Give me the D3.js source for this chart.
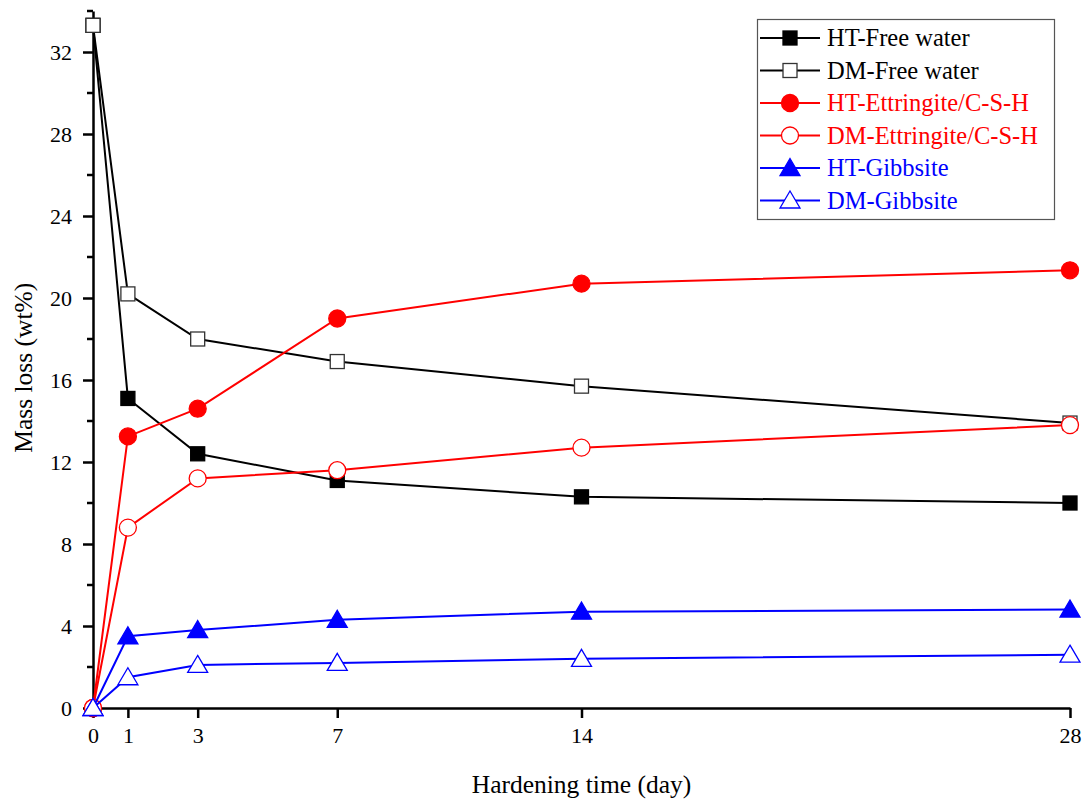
<!DOCTYPE html>
<html>
<head>
<meta charset="utf-8">
<script src="https://cdn.jsdelivr.net/npm/d3@7"></script>
<style>
body { margin: 0; background: #fff; }
text { font-family: "Liberation Serif", "Times New Roman", serif; }
</style>
</head>
<body>
<script>
// hardening time (day)
var days = [0, 1, 3, 7, 14, 28];
var xTicks = [0, 1, 3, 7, 14, 28];
var yTicks = [0, 4, 8, 12, 16, 20, 24, 28, 32];

var htFree = [33.3, 15.1, 12.4, 11.1, 10.3, 10.0];
var dmFree = [33.3, 20.2, 18.0, 16.9, 15.7, 13.9];
var htEtt = [0, 13.25, 14.6, 19.0, 20.7, 21.35];
var dmEtt = [0, 8.8, 11.2, 11.6, 12.7, 13.8];
var htGib = [0, 3.5, 3.8, 4.3, 4.7, 4.8];
var dmGib = [0, 1.5, 2.1, 2.2, 2.4, 2.6];

var names = ["HT-Free water", "DM-Free water", "HT-Ettringite/C-S-H", "DM-Ettringite/C-S-H", "HT-Gibbsite", "DM-Gibbsite"];
var allValues = [htFree, dmFree, htEtt, dmEtt, htGib, dmGib];
var colors = ["#000", "#000", "#ff0000", "#ff0000", "#0000ff", "#0000ff"];
var shapes = ["square", "square", "circle", "circle", "triangle", "triangle"];
var filled = [true, false, true, false, true, false];

var width = 1088, height = 805;
var margin = {left: 93, right: 18, top: 11, bottom: 97};

var svg = d3.select("body").append("svg").attr("width", width).attr("height", height);

var x = d3.scaleLinear().domain([0, 28]).range([margin.left, width - margin.right]);
var y = d3.scaleLinear().domain([0, 34]).range([height - margin.bottom, margin.top]);

// axes
var xAxis = svg.append("g")
  .attr("transform", "translate(0," + y(0) + ")")
  .call(d3.axisBottom(x).tickValues(xTicks).tickSize(10).tickPadding(9).tickSizeOuter(0));
var yAxis = svg.append("g")
  .attr("transform", "translate(" + x(0) + ",0)")
  .call(d3.axisLeft(y).tickValues(yTicks).tickSize(10).tickPadding(11).tickSizeOuter(0));

// minor y ticks
yAxis.selectAll("line.minor")
  .data(d3.range(2, 35, 4))
  .enter().append("line")
  .attr("class", "minor")
  .attr("x1", 0).attr("x2", -6)
  .attr("y1", function(d){ return y(d); })
  .attr("y2", function(d){ return y(d); })
  .attr("stroke", "#000").attr("stroke-width", 2.5);

[xAxis, yAxis].forEach(function(a){
  a.select(".domain").attr("stroke-width", 2.5).attr("stroke", "#000");
  a.selectAll(".tick line").attr("stroke-width", 2.5);
  a.selectAll(".tick text").attr("font-size", 22).attr("fill", "#000")
    .attr("font-family", "Liberation Serif, serif");
});

svg.append("text")
  .text("Hardening time (day)")
  .attr("x", (x(0) + x(28)) / 2)
  .attr("y", 793)
  .attr("text-anchor", "middle")
  .attr("font-size", 25.5);

svg.append("text")
  .text("Mass loss (wt%)")
  .attr("transform", "translate(32," + y(16.6) + ") rotate(-90)")
  .attr("text-anchor", "middle")
  .attr("font-size", 25.5);

var line = d3.line()
  .x(function(d, i){ return x(days[i]); })
  .y(function(d){ return y(d); });

function drawMarker(g, shape, cx, cy, color, fill) {
  var m;
  if (shape === "square") {
    m = g.append("rect").attr("x", cx - 7).attr("y", cy - 7).attr("width", 14).attr("height", 14);
  } else if (shape === "circle") {
    m = g.append("circle").attr("cx", cx).attr("cy", cy).attr("r", 8.5);
  } else {
    m = g.append("path").attr("d", "M" + cx + "," + (cy - 9.5) + "L" + (cx + 10) + "," + (cy + 7.5) + "L" + (cx - 10) + "," + (cy + 7.5) + "Z");
  }
  m.attr("fill", fill ? color : "#fff")
    .attr("stroke", fill ? color : (color === "#000" ? "#333" : color))
    .attr("stroke-width", 1.3);
}

allValues.forEach(function(vals, s) {
  var g = svg.append("g");
  g.append("path")
    .attr("d", line(vals))
    .attr("fill", "none")
    .attr("stroke", colors[s])
    .attr("stroke-width", 2);
  vals.forEach(function(v, i) {
    drawMarker(g, shapes[s], x(days[i]), y(v), colors[s], filled[s]);
  });
});

// legend
var legend = svg.append("g");
legend.append("rect")
  .attr("x", 757.5).attr("y", 19.5).attr("width", 297).attr("height", 200)
  .attr("fill", "#fff").attr("stroke", "#555").attr("stroke-width", 1.2);

names.forEach(function(n, s) {
  var ly = 38 + s * 32.5;
  var g = legend.append("g");
  g.append("line").attr("x1", 760).attr("x2", 820).attr("y1", ly).attr("y2", ly)
    .attr("stroke", colors[s]).attr("stroke-width", 2);
  drawMarker(g, shapes[s], 790, ly, colors[s], filled[s]);
  g.append("text").text(n)
    .attr("x", 827).attr("y", ly + 8)
    .attr("font-size", 24.5)
    .attr("fill", colors[s]);
});
</script>
</body>
</html>
